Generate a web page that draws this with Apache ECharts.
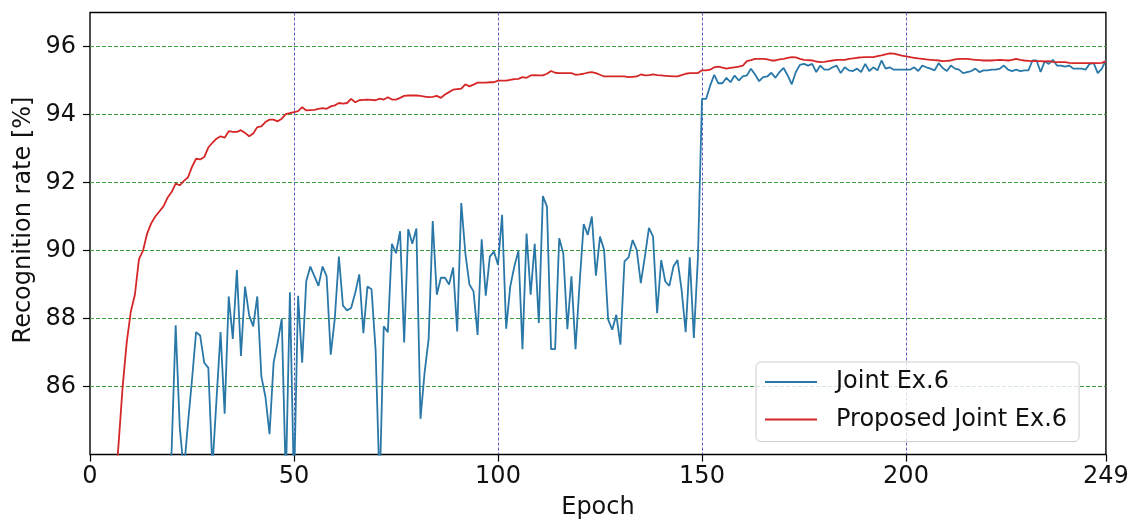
<!DOCTYPE html>
<html>
<head>
<meta charset="utf-8">
<script src="https://cdn.jsdelivr.net/npm/echarts@6/dist/echarts.min.js"></script>
<style>
  html, body { margin: 0; padding: 0; background: #fff; }
  #chart { width: 1137px; height: 526px; }
</style>
</head>
<body>
<div id="chart"></div>
<script>
// Recognition rate per epoch (0..249) for the two training setups
const jointEx6 = [
  52.1, 61.4, 66.8, 70.2, 72.5, 74.9, 76.3, 77.0, 78.4, 79.1,
  79.8, 80.6, 81.2, 80.9, 81.8, 82.3, 82.0, 82.7, 83.1, 82.9,
  84.1, 87.8, 84.8, 83.5, 84.9, 86.2, 87.6, 87.5, 86.7, 86.55,
  83.6, 85.6, 87.6, 85.2, 88.65, 87.4, 89.43, 86.9, 88.94, 88.1,
  87.77, 88.65, 86.3, 85.7, 84.6, 86.7, 87.3, 88.0, 83.2, 88.77,
  83.0, 88.67, 86.7, 89.1, 89.53, 89.25, 88.96, 89.53, 89.24, 86.94,
  88.0, 89.82, 88.38, 88.24, 88.31, 88.75, 89.3, 87.57, 88.94, 88.86,
  87.08, 83.0, 87.77, 87.6, 90.2, 89.92, 90.57, 87.3, 90.63, 90.2,
  90.65, 85.05, 86.4, 87.4, 90.87, 88.7, 89.2, 89.2, 89.0, 89.5,
  87.62, 91.4, 89.92, 89.0, 88.8, 87.52, 90.33, 88.67, 89.82, 89.97,
  89.58, 91.05, 87.7, 88.94, 89.53, 89.99, 87.1, 90.5, 88.7, 90.2,
  87.87, 91.6, 91.29, 87.1, 87.1, 90.36, 89.92, 87.69, 89.24, 87.1,
  89.04, 90.78, 90.46, 91.0, 89.26, 90.41, 90.02, 87.97, 87.67, 88.11,
  87.23, 89.68, 89.8, 90.31, 90.02, 89.04, 89.82, 90.67, 90.41, 88.16,
  89.72, 89.09, 88.96, 89.53, 89.72, 88.84, 87.6, 89.8, 87.43, 89.8,
  94.46, 94.46, 94.85, 95.17, 94.92, 94.92, 95.08, 94.95, 95.15, 95.0,
  95.12, 95.15, 95.35, 95.18, 94.98, 95.1, 95.12, 95.23, 95.08, 95.25,
  95.37, 95.15, 94.89, 95.25, 95.46, 95.49, 95.44, 95.49, 95.25, 95.44,
  95.32, 95.32, 95.39, 95.44, 95.22, 95.39, 95.3, 95.28, 95.35, 95.25,
  95.49, 95.28, 95.39, 95.3, 95.59, 95.35, 95.39, 95.32, 95.32, 95.32,
  95.32, 95.32, 95.39, 95.28, 95.44, 95.39, 95.35, 95.3, 95.51, 95.37,
  95.28, 95.44, 95.35, 95.32, 95.22, 95.25, 95.28, 95.35, 95.25, 95.3,
  95.3, 95.32, 95.32, 95.35, 95.44, 95.32, 95.28, 95.32, 95.28, 95.3,
  95.3, 95.59, 95.59, 95.25, 95.57, 95.49, 95.61, 95.44, 95.44, 95.41,
  95.44, 95.35, 95.35, 95.35, 95.32, 95.49, 95.51, 95.22, 95.35, 95.61
];

const proposedJointEx6 = [
  58.4, 66.1, 71.3, 75.2, 78.4, 80.9, 82.8, 84.3, 86.0, 87.3,
  88.2, 88.7, 89.75, 90.0, 90.5, 90.8, 91.0, 91.15, 91.3, 91.55,
  91.72, 91.97, 91.92, 92.05, 92.15, 92.46, 92.7, 92.68, 92.75, 93.03,
  93.17, 93.29, 93.36, 93.32, 93.51, 93.49, 93.49, 93.54, 93.46, 93.36,
  93.44, 93.63, 93.65, 93.78, 93.85, 93.85, 93.8, 93.88, 94.01, 94.04,
  94.07, 94.1, 94.22, 94.12, 94.13, 94.14, 94.17, 94.19, 94.17, 94.24,
  94.27, 94.34, 94.32, 94.34, 94.46, 94.36, 94.42, 94.43, 94.44, 94.43,
  94.42, 94.47, 94.44, 94.51, 94.44, 94.44, 94.49, 94.55, 94.56, 94.56,
  94.56, 94.55, 94.53, 94.51, 94.52, 94.55, 94.49, 94.59, 94.66, 94.73,
  94.75, 94.76, 94.89, 94.83, 94.88, 94.94, 94.94, 94.94, 94.95, 94.95,
  95.0, 95.0, 95.0, 95.02, 95.04, 95.05, 95.1, 95.08, 95.15, 95.16,
  95.15, 95.15, 95.2, 95.28, 95.23, 95.22, 95.22, 95.22, 95.22, 95.17,
  95.18, 95.2, 95.23, 95.25, 95.22, 95.17, 95.12, 95.12, 95.12, 95.12,
  95.12, 95.12, 95.1, 95.11, 95.12, 95.18, 95.15, 95.16, 95.18, 95.16,
  95.15, 95.14, 95.13, 95.12, 95.12, 95.16, 95.2, 95.22, 95.22, 95.22,
  95.3, 95.3, 95.32, 95.39, 95.41, 95.38, 95.35, 95.37, 95.39, 95.41,
  95.44, 95.57, 95.6, 95.64, 95.64, 95.64, 95.62, 95.59, 95.59, 95.62,
  95.64, 95.67, 95.69, 95.68, 95.64, 95.61, 95.6, 95.59, 95.56, 95.54,
  95.55, 95.57, 95.59, 95.61, 95.61, 95.61, 95.64, 95.65, 95.67, 95.68,
  95.69, 95.69, 95.69, 95.72, 95.74, 95.77, 95.8, 95.79, 95.76, 95.73,
  95.71, 95.69, 95.67, 95.65, 95.64, 95.62, 95.61, 95.6, 95.59, 95.57,
  95.58, 95.59, 95.62, 95.64, 95.64, 95.64, 95.62, 95.61, 95.6, 95.59,
  95.59, 95.59, 95.6, 95.61, 95.6, 95.59, 95.61, 95.64, 95.61, 95.59,
  95.58, 95.57, 95.57, 95.57, 95.56, 95.57, 95.55, 95.54, 95.54, 95.54,
  95.52, 95.51, 95.51, 95.51, 95.51, 95.51, 95.51, 95.51, 95.52, 95.57
];

const seriesNames = ['Joint Ex.6', 'Proposed Joint Ex.6'];
const xTickLabels = [0, 50, 100, 150, 200, 249];
const yTickLabels = [86, 88, 90, 92, 94, 96];

const FONT = 'DejaVu Sans';
const toPairs = arr => arr.map((v, i) => [i, v]);

const chart = echarts.init(document.getElementById('chart'), null, { renderer: 'canvas' });

// plot box: 4.08 px per epoch horizontally, 34 px per percent vertically,
// offset so the thin dashed grid lines stay crisp
chart.setOption({
  animation: false,
  backgroundColor: '#ffffff',
  grid: {
    left: 90, right: 31.08, top: 12.55, bottom: 71.45,
    show: true, borderColor: '#000', borderWidth: 1.4, backgroundColor: 'transparent'
  },
  xAxis: {
    type: 'value', min: 0, max: 249, interval: 50,
    name: 'Epoch', nameLocation: 'middle', nameGap: 41,
    nameTextStyle: { fontFamily: FONT, fontSize: 24, color: '#111' },
    axisLine: { show: false },
    axisTick: { show: true, length: 7, customValues: xTickLabels, lineStyle: { color: '#000', width: 1.2 } },
    axisLabel: { customValues: xTickLabels, margin: 10, fontFamily: FONT, fontSize: 24, color: '#111' },
    splitLine: {
      show: true, showMinLine: false, showMaxLine: false,
      lineStyle: { color: '#5c5cbc', width: 1, type: [3, 2] }
    }
  },
  yAxis: {
    type: 'value', min: 84, max: 97, interval: 2,
    axisLine: { show: false },
    axisTick: { show: true, length: 7, customValues: yTickLabels, lineStyle: { color: '#000', width: 1.2 } },
    axisLabel: { customValues: yTickLabels, margin: 14, fontFamily: FONT, fontSize: 24, color: '#111' },
    splitLine: {
      show: true,
      lineStyle: { color: '#3a9c3a', width: 1, type: [4, 2] }
    }
  },
  graphic: [{
    type: 'text', x: 24, y: 220, rotation: Math.PI / 2,
    style: {
      text: 'Recognition rate [%]', fill: '#111',
      font: '24px "DejaVu Sans"', textAlign: 'center', textVerticalAlign: 'middle'
    }
  }],
  legend: {
    orient: 'vertical', left: 756, top: 362,
    padding: [7, 12, 9, 9],
    icon: 'rect',
    itemWidth: 52, itemHeight: 2, itemGap: 11.6,
    backgroundColor: 'rgba(255,255,255,0.8)',
    borderColor: '#cccccc', borderWidth: 1, borderRadius: 5,
    textStyle: { fontFamily: FONT, fontSize: 24, lineHeight: 26, color: '#111', padding: [0, 0, 0, 14] },
    data: seriesNames
  },
  series: [
    {
      name: seriesNames[0], type: 'line', data: toPairs(jointEx6),
      symbol: 'none', clip: true,
      lineStyle: { color: '#2a78a8', width: 1.8 }, itemStyle: { color: '#2a78a8' }, z: 3
    },
    {
      name: seriesNames[1], type: 'line', data: toPairs(proposedJointEx6),
      symbol: 'none', clip: true,
      lineStyle: { color: '#d62728', width: 1.8 }, itemStyle: { color: '#d62728' }, z: 4
    }
  ]
});
</script>
</body>
</html>
